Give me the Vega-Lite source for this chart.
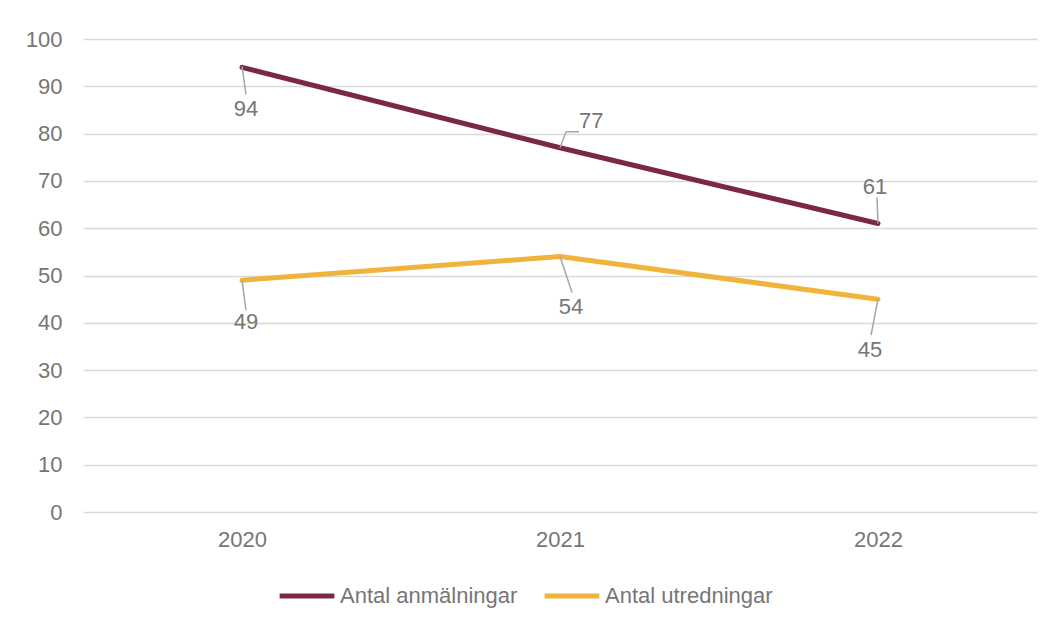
{
  "$schema": "https://vega.github.io/schema/vega-lite/v6.json",
  "width": 954,
  "height": 473,
  "autosize": {"type": "none"},
  "padding": {"left": 83, "top": 39, "right": 19, "bottom": 110},
  "background": "white",
  "config": {
    "view": {"stroke": null},
    "font": "Liberation Sans",
    "axis": {"labelFont": "Liberation Sans", "labelColor": "#767676", "labelFontSize": 22}
  },
  "data": {
    "values": [
      {"year": "2020", "series": "Antal anmälningar", "value": 94},
      {"year": "2021", "series": "Antal anmälningar", "value": 77},
      {"year": "2022", "series": "Antal anmälningar", "value": 61},
      {"year": "2020", "series": "Antal utredningar", "value": 49},
      {"year": "2021", "series": "Antal utredningar", "value": 54},
      {"year": "2022", "series": "Antal utredningar", "value": 45}
    ]
  },
  "encoding": {
    "x": {
      "field": "year", "type": "ordinal",
      "scale": {"type": "point", "padding": 0.5},
      "axis": {"title": null, "labelAngle": 0, "ticks": false, "domain": false, "labelPadding": 17}
    },
    "y": {
      "field": "value", "type": "quantitative",
      "scale": {"domain": [0, 100], "nice": false},
      "axis": {"title": null, "values": [0,10,20,30,40,50,60,70,80,90,100], "ticks": false, "domain": false, "labelPadding": 21, "gridColor": "#d9d9d9", "gridWidth": 1.5}
    }
  },
  "layer": [
    {
      "mark": {"type": "line", "strokeWidth": 5, "strokeCap": "round", "strokeJoin": "round"},
      "encoding": {
        "color": {
          "field": "series", "type": "nominal",
          "scale": {"domain": ["Antal anmälningar", "Antal utredningar"], "range": ["#7b2942", "#f0b43c"]},
          "legend": {
            "title": null, "orient": "none", "direction": "horizontal",
            "legendX": 194, "legendY": 527,
            "symbolType": "stroke", "symbolSize": 3000, "symbolStrokeWidth": 5,
            "labelFont": "Liberation Sans", "labelFontSize": 22, "labelColor": "#767676",
            "labelOffset": 3, "columnPadding": 16, "labelLimit": 400
          }
        }
      }
    },
    {
      "transform": [{"filter": "datum.year == '2020' && datum.series == 'Antal anmälningar'"}],
      "mark": {"type": "rule", "color": "#a6a6a6", "strokeWidth": 1.5, "yOffset": -1, "x2Offset": 4, "y2Offset": 27},
      "encoding": {"x2": {"field": "year"}, "y2": {"field": "value"}}
    },
    {
      "transform": [{"filter": "datum.year == '2021' && datum.series == 'Antal anmälningar'"}],
      "mark": {"type": "rule", "color": "#a6a6a6", "strokeWidth": 1.5, "x2Offset": 6, "y2Offset": -16},
      "encoding": {"x2": {"field": "year"}, "y2": {"field": "value"}}
    },
    {
      "transform": [{"filter": "datum.year == '2021' && datum.series == 'Antal anmälningar'"}],
      "mark": {"type": "rule", "color": "#a6a6a6", "strokeWidth": 1.5, "xOffset": 6, "x2Offset": 19, "yOffset": -16, "y2Offset": -16},
      "encoding": {"x2": {"field": "year"}, "y2": {"field": "value"}}
    },
    {
      "transform": [{"filter": "datum.year == '2022' && datum.series == 'Antal anmälningar'"}],
      "mark": {"type": "rule", "color": "#a6a6a6", "strokeWidth": 1.5, "x2Offset": -1, "y2Offset": -26},
      "encoding": {"x2": {"field": "year"}, "y2": {"field": "value"}}
    },
    {
      "transform": [{"filter": "datum.year == '2020' && datum.series == 'Antal utredningar'"}],
      "mark": {"type": "rule", "color": "#a6a6a6", "strokeWidth": 1.5, "x2Offset": 4, "y2Offset": 30},
      "encoding": {"x2": {"field": "year"}, "y2": {"field": "value"}}
    },
    {
      "transform": [{"filter": "datum.year == '2021' && datum.series == 'Antal utredningar'"}],
      "mark": {"type": "rule", "color": "#a6a6a6", "strokeWidth": 1.5, "x2Offset": 12, "y2Offset": 36},
      "encoding": {"x2": {"field": "year"}, "y2": {"field": "value"}}
    },
    {
      "transform": [{"filter": "datum.year == '2022' && datum.series == 'Antal utredningar'"}],
      "mark": {"type": "rule", "color": "#a6a6a6", "strokeWidth": 1.5, "x2Offset": -7, "y2Offset": 36},
      "encoding": {"x2": {"field": "year"}, "y2": {"field": "value"}}
    },
    {
      "transform": [{"filter": "datum.year == '2020' && datum.series == 'Antal anmälningar'"}],
      "mark": {"type": "text", "font": "Liberation Sans", "fontSize": 22, "color": "#767676", "baseline": "middle", "dx": 4, "dy": 42},
      "encoding": {"text": {"field": "value"}}
    },
    {
      "transform": [{"filter": "datum.year == '2021' && datum.series == 'Antal anmälningar'"}],
      "mark": {"type": "text", "font": "Liberation Sans", "fontSize": 22, "color": "#767676", "baseline": "middle", "align": "left", "dx": 19, "dy": -27},
      "encoding": {"text": {"field": "value"}}
    },
    {
      "transform": [{"filter": "datum.year == '2022' && datum.series == 'Antal anmälningar'"}],
      "mark": {"type": "text", "font": "Liberation Sans", "fontSize": 22, "color": "#767676", "baseline": "middle", "dx": -3, "dy": -36},
      "encoding": {"text": {"field": "value"}}
    },
    {
      "transform": [{"filter": "datum.year == '2020' && datum.series == 'Antal utredningar'"}],
      "mark": {"type": "text", "font": "Liberation Sans", "fontSize": 22, "color": "#767676", "baseline": "middle", "dx": 4, "dy": 42},
      "encoding": {"text": {"field": "value"}}
    },
    {
      "transform": [{"filter": "datum.year == '2021' && datum.series == 'Antal utredningar'"}],
      "mark": {"type": "text", "font": "Liberation Sans", "fontSize": 22, "color": "#767676", "baseline": "middle", "dx": 11, "dy": 50},
      "encoding": {"text": {"field": "value"}}
    },
    {
      "transform": [{"filter": "datum.year == '2022' && datum.series == 'Antal utredningar'"}],
      "mark": {"type": "text", "font": "Liberation Sans", "fontSize": 22, "color": "#767676", "baseline": "middle", "dx": -8, "dy": 51},
      "encoding": {"text": {"field": "value"}}
    }
  ]
}
